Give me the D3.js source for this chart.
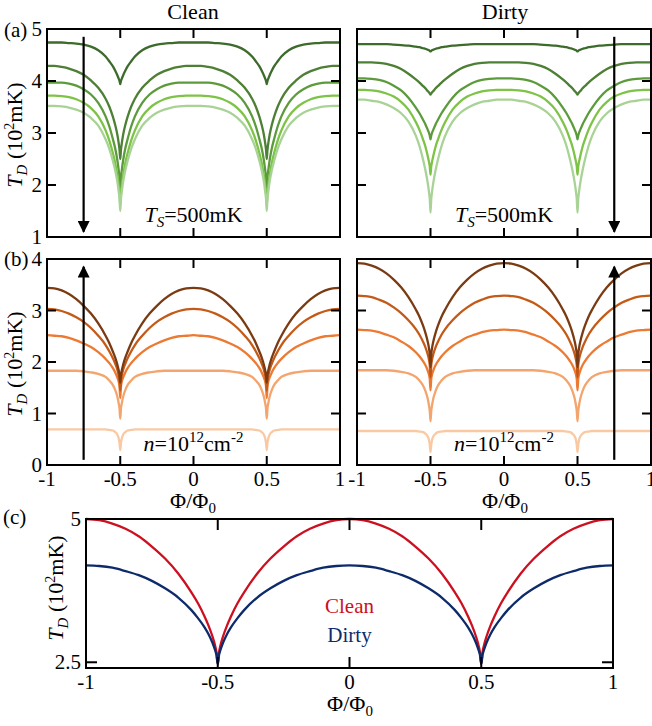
<!DOCTYPE html>
<html>
<head>
<meta charset="utf-8">
<script src="https://cdn.jsdelivr.net/npm/d3@7"></script>
<style>
  body { margin: 0; background: #fff; }
</style>
</head>
<body>
<svg id="chart" width="652" height="726" font-family="Liberation Serif, Times New Roman, DejaVu Serif, serif"></svg>
<script>
// distance from the nearest half flux quantum (profile repeats around every dip)
const dist = [0, 0.005, 0.01, 0.02, 0.035, 0.05, 0.075, 0.1, 0.15, 0.2, 0.25, 0.3, 0.35, 0.4, 0.45, 0.5];

// (a) T_S = 500 mK, clean, top curve -> bottom curve
const tsClean = [
  [3.94, 4.00, 4.04, 4.11, 4.20, 4.28, 4.38, 4.47, 4.59, 4.66, 4.70, 4.72, 4.73, 4.74, 4.74, 4.74],
  [2.50, 2.68, 2.79, 2.97, 3.16, 3.31, 3.51, 3.66, 3.87, 4.01, 4.12, 4.19, 4.24, 4.27, 4.29, 4.29],
  [1.90, 2.15, 2.27, 2.48, 2.71, 2.88, 3.13, 3.32, 3.58, 3.74, 3.84, 3.91, 3.95, 3.97, 3.97, 3.97],
  [1.60, 1.85, 1.98, 2.19, 2.43, 2.61, 2.86, 3.05, 3.32, 3.48, 3.58, 3.65, 3.69, 3.71, 3.72, 3.72],
  [1.50, 1.74, 1.86, 2.07, 2.29, 2.46, 2.70, 2.88, 3.14, 3.29, 3.39, 3.45, 3.49, 3.51, 3.52, 3.52]
];
// (a) dirty
const tsDirty = [
  [4.57, 4.58, 4.59, 4.60, 4.62, 4.63, 4.65, 4.66, 4.68, 4.69, 4.70, 4.71, 4.71, 4.71, 4.71, 4.71],
  [3.74, 3.76, 3.78, 3.81, 3.86, 3.90, 3.97, 4.03, 4.14, 4.23, 4.29, 4.33, 4.35, 4.36, 4.36, 4.36],
  [2.88, 2.95, 3.00, 3.07, 3.17, 3.25, 3.38, 3.49, 3.68, 3.82, 3.91, 3.98, 4.02, 4.04, 4.05, 4.05],
  [2.20, 2.36, 2.44, 2.57, 2.74, 2.87, 3.06, 3.21, 3.45, 3.60, 3.70, 3.76, 3.80, 3.82, 3.83, 3.83],
  [1.47, 1.73, 1.86, 2.06, 2.29, 2.48, 2.75, 2.95, 3.22, 3.38, 3.48, 3.55, 3.60, 3.62, 3.64, 3.64]
];
const greens = ["#3d6b2b", "#4d7f35", "#5c9b3c", "#7dc345", "#a9d396"];

// (b) n = 1e12 cm^-2, bottom curve -> top curve
const nClean = [
  [0.29, 0.43, 0.51, 0.59, 0.64, 0.67, 0.68, 0.69, 0.69, 0.69, 0.69, 0.69, 0.69, 0.69, 0.69, 0.69],
  [0.90, 1.10, 1.19, 1.33, 1.46, 1.55, 1.64, 1.71, 1.77, 1.80, 1.82, 1.83, 1.83, 1.83, 1.83, 1.83],
  [1.30, 1.53, 1.61, 1.70, 1.80, 1.88, 1.98, 2.06, 2.19, 2.29, 2.36, 2.42, 2.47, 2.50, 2.51, 2.52],
  [1.45, 1.65, 1.73, 1.85, 1.97, 2.07, 2.21, 2.33, 2.51, 2.66, 2.78, 2.87, 2.94, 2.99, 3.02, 3.03],
  [1.60, 1.75, 1.83, 1.95, 2.09, 2.20, 2.37, 2.51, 2.75, 2.94, 3.09, 3.22, 3.32, 3.39, 3.43, 3.44]
];
const nDirty = [
  [0.25, 0.39, 0.48, 0.56, 0.61, 0.64, 0.65, 0.66, 0.66, 0.66, 0.66, 0.66, 0.66, 0.66, 0.66, 0.66],
  [0.85, 1.05, 1.15, 1.30, 1.44, 1.54, 1.64, 1.71, 1.78, 1.81, 1.83, 1.84, 1.84, 1.84, 1.84, 1.84],
  [1.45, 1.67, 1.75, 1.84, 1.94, 2.01, 2.11, 2.19, 2.31, 2.40, 2.48, 2.53, 2.58, 2.61, 2.62, 2.63],
  [1.70, 1.94, 2.04, 2.16, 2.29, 2.39, 2.53, 2.64, 2.81, 2.95, 3.06, 3.15, 3.21, 3.26, 3.28, 3.29],
  [1.90, 2.15, 2.26, 2.41, 2.57, 2.70, 2.88, 3.02, 3.26, 3.45, 3.60, 3.72, 3.81, 3.87, 3.91, 3.92]
];
const oranges = ["#f9c9a4", "#f4a56e", "#ec7a33", "#c45a18", "#7a3b12"];

// (c) comparison
const cmpClean = [2.47, 2.68, 2.79, 2.95, 3.14, 3.30, 3.53, 3.72, 4.05, 4.31, 4.52, 4.70, 4.83, 4.92, 4.98, 5.0];
const cmpDirty = [2.47, 2.63, 2.71, 2.84, 2.99, 3.11, 3.27, 3.41, 3.63, 3.79, 3.92, 4.02, 4.09, 4.15, 4.18, 4.19];
const cmpColors = ["#cc1020", "#0d2b6b"];

const xTickMarks = [-0.5, 0, 0.5];
const xTickLabels = [-1, -0.5, 0, 0.5, 1];

const svg = d3.select("#chart");
const font = 21;

// turn a half-period profile into points over -1..1
function unfold(p) {
  const n = dist.length, pts = [];
  for (let i = n - 1; i >= 0; i--) pts.push([-0.5 - dist[i], p[i]]);
  for (let i = 1; i < n; i++) pts.push([-0.5 + dist[i], p[i]]);
  for (let i = n - 2; i >= 0; i--) pts.push([0.5 - dist[i], p[i]]);
  for (let i = 1; i < n; i++) pts.push([0.5 + dist[i], p[i]]);
  return pts;
}

svg.append("defs").append("marker")
  .attr("id", "head")
  .attr("markerUnits", "userSpaceOnUse")
  .attr("viewBox", "0 0 10 10")
  .attr("refX", 9).attr("refY", 5)
  .attr("markerWidth", 14).attr("markerHeight", 12)
  .attr("orient", "auto")
  .append("path").attr("d", "M0,0 L10,5 L0,10 Z").attr("fill", "#000");

function panel(o) {
  const x = d3.scaleLinear().domain([-1, 1]).range([o.x0, o.x1]);
  const y = d3.scaleLinear().domain(o.yDomain).range([o.y1, o.y0]);
  const g = svg.append("g");
  const line = d3.line().x(d => x(d[0])).y(d => y(d[1])).curve(d3.curveMonotoneX);

  o.series.forEach((s, i) => {
    g.append("path")
      .attr("d", line(unfold(s)))
      .attr("fill", "none")
      .attr("stroke", o.colors[i])
      .attr("stroke-width", 2.3);
  });

  const tl = o.tick || 9;
  xTickMarks.forEach(t => {
    g.append("line").attr("x1", x(t)).attr("x2", x(t)).attr("y1", o.y0).attr("y2", o.y0 + tl)
      .attr("stroke", "#000").attr("stroke-width", 2);
    g.append("line").attr("x1", x(t)).attr("x2", x(t)).attr("y1", o.y1).attr("y2", o.y1 - tl)
      .attr("stroke", "#000").attr("stroke-width", 2);
  });
  o.yTicks.forEach(t => {
    g.append("line").attr("x1", o.x0).attr("x2", o.x0 + tl).attr("y1", y(t)).attr("y2", y(t))
      .attr("stroke", "#000").attr("stroke-width", 2);
    g.append("line").attr("x1", o.x1).attr("x2", o.x1 - tl).attr("y1", y(t)).attr("y2", y(t))
      .attr("stroke", "#000").attr("stroke-width", 2);
    if (o.yLabels) {
      g.append("text").attr("x", o.x0 - 5).attr("y", y(t) + 7)
        .attr("text-anchor", "end").attr("font-size", font)
        .text(o.yFmt ? o.yFmt(t) : t);
    }
  });

  g.append("rect")
    .attr("x", o.x0).attr("y", o.y0)
    .attr("width", o.x1 - o.x0).attr("height", o.y1 - o.y0)
    .attr("fill", "none").attr("stroke", "#000").attr("stroke-width", 2);

  if (o.xLabels) {
    xTickLabels.forEach(t => {
      g.append("text").attr("x", x(t)).attr("y", o.y1 + o.xLabelDy)
        .attr("text-anchor", "middle").attr("font-size", font)
        .text(t);
    });
  }
  return { x, y, g };
}

function phiLabel(cx, by) {
  const t = svg.append("text").attr("x", cx).attr("y", by)
    .attr("text-anchor", "middle").attr("font-size", 22);
  t.append("tspan").text("Φ/Φ");
  t.append("tspan").attr("font-size", 15).attr("dy", 5).text("0");
}

function yTitle(cx, cy) {
  const t = svg.append("text")
    .attr("transform", `translate(${cx},${cy}) rotate(-90)`)
    .attr("text-anchor", "middle").attr("font-size", 22);
  t.append("tspan").attr("font-style", "italic").text("T");
  t.append("tspan").attr("font-style", "italic").attr("font-size", 15).attr("dy", 5).text("D");
  t.append("tspan").attr("dy", -5).text(" (10");
  t.append("tspan").attr("font-size", 14).attr("dy", -8).text("2");
  t.append("tspan").attr("dy", 8).text("mK)");
}

function arrow(p, xv, from, to) {
  p.g.append("line")
    .attr("x1", p.x(xv)).attr("x2", p.x(xv))
    .attr("y1", p.y(from)).attr("y2", p.y(to))
    .attr("stroke", "#000").attr("stroke-width", 2.2)
    .attr("marker-end", "url(#head)");
}

function tsNote(p) {
  const t = p.g.append("text").attr("x", p.x(0)).attr("y", 222)
    .attr("text-anchor", "middle").attr("font-size", 22);
  t.append("tspan").attr("font-style", "italic").text("T");
  t.append("tspan").attr("font-style", "italic").attr("font-size", 15).attr("dy", 5).text("S");
  t.append("tspan").attr("dy", -5).text("=500mK");
}

function nNote(p) {
  const t = p.g.append("text").attr("x", p.x(0)).attr("y", 451)
    .attr("text-anchor", "middle").attr("font-size", 22);
  t.append("tspan").attr("font-style", "italic").text("n");
  t.append("tspan").text("=10");
  t.append("tspan").attr("font-size", 15).attr("dy", -9).text("12");
  t.append("tspan").attr("dy", 9).text("cm");
  t.append("tspan").attr("font-size", 15).attr("dy", -9).text("-2");
}

// (a)
const aL = panel({ x0: 47, x1: 340, y0: 29, y1: 237, yDomain: [1, 5], yTicks: [1, 2, 3, 4, 5],
  yLabels: true, series: tsClean, colors: greens });
const aR = panel({ x0: 357, x1: 651, y0: 29, y1: 237, yDomain: [1, 5], yTicks: [1, 2, 3, 4, 5],
  yLabels: false, series: tsDirty, colors: greens });
arrow(aL, -0.75, 4.85, 1.1);
arrow(aR, 0.75, 4.85, 1.1);
tsNote(aL);
tsNote(aR);

// (b)
const bL = panel({ x0: 47, x1: 340, y0: 259, y1: 465, yDomain: [0, 4], yTicks: [0, 1, 2, 3, 4],
  yLabels: true, series: nClean, colors: oranges, xLabels: true, xLabelDy: 21 });
const bR = panel({ x0: 357, x1: 651, y0: 259, y1: 465, yDomain: [0, 4], yTicks: [0, 1, 2, 3, 4],
  yLabels: false, series: nDirty, colors: oranges, xLabels: true, xLabelDy: 21 });
arrow(bL, -0.75, 0.1, 3.85);
arrow(bR, 0.75, 0.1, 3.85);
nNote(bL);
nNote(bR);

// (c)
const c = panel({ x0: 86, x1: 613, y0: 519, y1: 668, yDomain: [2.4, 5.0], yTicks: [2.5, 5],
  yLabels: true, yFmt: d3.format(""), series: [cmpClean, cmpDirty], colors: cmpColors,
  xLabels: true, xLabelDy: 21, tick: 11 });
c.g.append("text").attr("x", c.x(0)).attr("y", 613).attr("text-anchor", "middle")
  .attr("font-size", font).attr("fill", cmpColors[0]).text("Clean");
c.g.append("text").attr("x", c.x(0)).attr("y", 642).attr("text-anchor", "middle")
  .attr("font-size", font).attr("fill", cmpColors[1]).text("Dirty");

// titles and labels
svg.append("text").attr("x", 193).attr("y", 19).attr("text-anchor", "middle").attr("font-size", 22).text("Clean");
svg.append("text").attr("x", 505).attr("y", 19).attr("text-anchor", "middle").attr("font-size", 22).text("Dirty");
svg.append("text").attr("x", 4).attr("y", 37).attr("font-size", font).text("(a)");
svg.append("text").attr("x", 4).attr("y", 266).attr("font-size", font).text("(b)");
svg.append("text").attr("x", 3).attr("y", 524).attr("font-size", font).text("(c)");

yTitle(22, 135);
yTitle(22, 364);
yTitle(63, 588);
phiLabel(193, 508);
phiLabel(505, 508);
phiLabel(350, 711);
</script>
</body>
</html>
